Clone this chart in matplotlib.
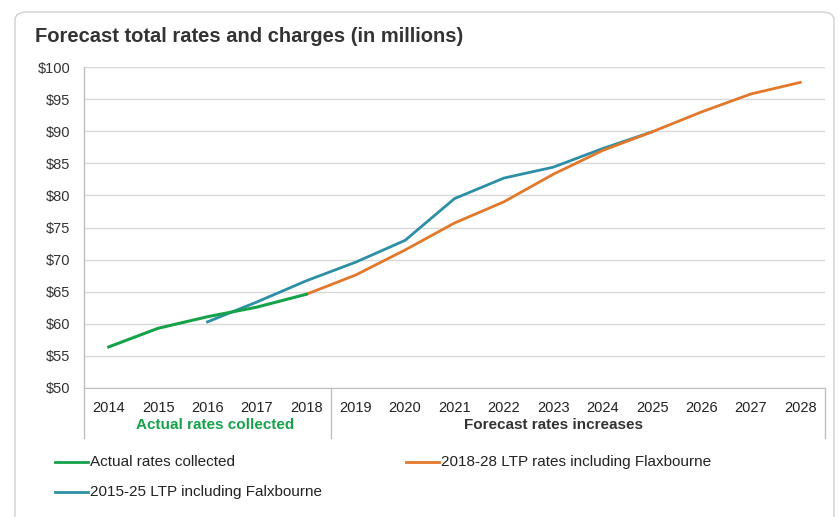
import matplotlib
matplotlib.use("Agg")
import matplotlib.pyplot as plt
from matplotlib.patches import FancyBboxPatch
from matplotlib.lines import Line2D

years = [str(y) for y in range(2014, 2029)]
actual = [56.4, 59.3, 61.1, 62.6, 64.6]                      # 2014-2018
ltp_2018 = [64.6, 67.6, 71.5, 75.7, 79.0, 83.3, 87.0, 89.9, 93.0, 95.8, 97.6]  # 2018-2028
ltp_2015 = [60.3, 63.4, 66.7, 69.6, 73.0, 79.5, 82.7, 84.4, 87.3, 89.9]        # 2016-2025
yticks = list(range(50, 101, 5))
group_labels = ["Actual rates collected", "Forecast rates increases"]

GREEN = "#15A24B"
ORANGE = "#E2782A"
TEAL = "#2C8FA5"
FONT = ["Liberation Sans", "DejaVu Sans"]
plt.rcParams["font.family"] = FONT

fig = plt.figure(figsize=(8.39, 5.17), dpi=100)
W, H = 839, 517

def fx(px):
    return px / W

def fy(py):
    return 1 - py / H

# outer rounded border (bottom edge falls just outside the canvas)
border = FancyBboxPatch((fx(15), fy(530)), fx(834) - fx(15), fy(12) - fy(530),
                        boxstyle="round,pad=0,rounding_size=0.015",
                        transform=fig.transFigure, fill=False,
                        edgecolor="#D0D0D0", linewidth=1.0)
fig.patches.append(border)

ax = fig.add_axes([fx(84), fy(388), fx(825) - fx(84), fy(67) - fy(388)])
idx = list(range(len(years)))

ax.plot(idx[0:5], actual, color=GREEN, lw=2.2, zorder=4)
ax.plot(idx[4:15], ltp_2018, color=ORANGE, lw=2.0, zorder=3)
ax.plot(idx[2:12], ltp_2015, color=TEAL, lw=2.0, zorder=2)

ax.set_xlim(-0.5, len(years) - 0.5)
ax.set_ylim(50, 100)
ax.set_yticks(yticks)
ax.set_yticklabels([f"${v}" for v in yticks], fontsize=10.5, color="#333333")
ax.set_xticks(idx)
ax.set_xticklabels(years, fontsize=10.5, color="#222222")
ax.tick_params(axis="both", length=0)
ax.tick_params(axis="y", pad=10)
ax.tick_params(axis="x", pad=9)
ax.grid(axis="y", color="#D9D9D9", lw=1.0)
ax.set_axisbelow(True)
for s in ["top", "right", "left"]:
    ax.spines[s].set_visible(False)
ax.spines["bottom"].set_color("#BFBFBF")

# multi-level category separators
trans = ax.get_xaxis_transform()
sep_bottom = (fy(438) - fy(388)) / (fy(67) - fy(388))
for xv in [-0.5, 4.5, len(years) - 0.5]:
    ax.add_line(Line2D([xv, xv], [0, sep_bottom], transform=trans,
                       color="#BFBFBF", lw=1.0, clip_on=False))
ax.add_line(Line2D([-0.5, -0.5], [0, 1], transform=trans, color="#BFBFBF", lw=1.0, clip_on=False))

gy = (fy(425) - fy(388)) / (fy(67) - fy(388))
ax.text(2.15, gy, group_labels[0], transform=trans, ha="center", va="center",
        fontsize=11, fontweight="bold", color=GREEN)
ax.text(9.0, gy, group_labels[1], transform=trans, ha="center", va="center",
        fontsize=11, fontweight="bold", color="#333333")

# title
fig.text(fx(35), fy(37), "Forecast total rates and charges (in millions)",
         fontsize=14.5, fontweight="bold", color="#333333", va="center", ha="left")

# legend
def legend_item(x0, y0, color, label):
    fig.add_artist(Line2D([fx(x0), fx(x0 + 33)], [fy(y0), fy(y0)],
                          transform=fig.transFigure, color=color, lw=2.0))
    fig.text(fx(x0 + 35), fy(y0), label, fontsize=11, color="#222222",
             va="center", ha="left")

legend_item(55, 462, GREEN, "Actual rates collected")
legend_item(406, 462, ORANGE, "2018-28 LTP rates including Flaxbourne")
legend_item(55, 492, TEAL, "2015-25 LTP including Falxbourne")

fig.savefig("out.png", dpi=100)
